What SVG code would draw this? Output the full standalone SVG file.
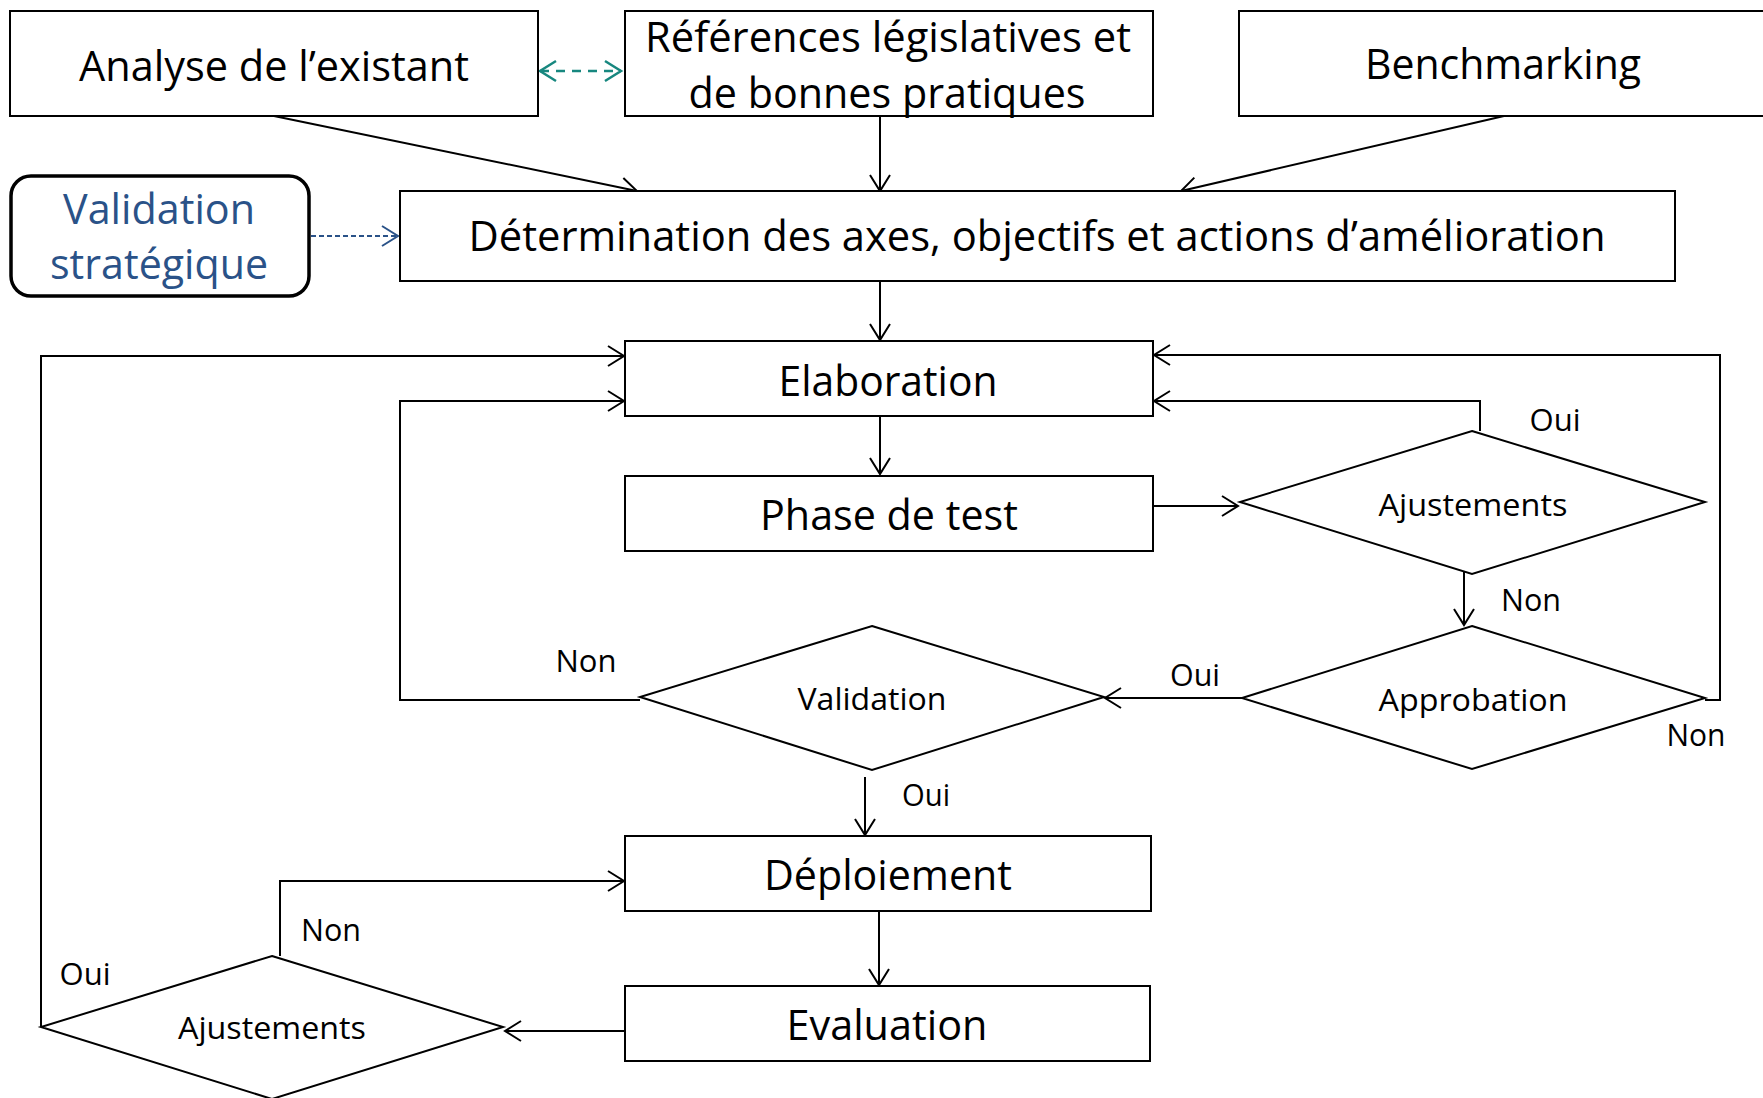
<svg xmlns="http://www.w3.org/2000/svg" width="1763" height="1098" viewBox="0 0 1763 1098">
<style>
.box{fill:#fff;stroke:#000;stroke-width:2}
.dia{fill:#fff;stroke:#000;stroke-width:2}
.t{font-family:"Open Sans","Liberation Sans",sans-serif;font-size:42px;fill:#000;text-anchor:middle}
.s{font-family:"Open Sans","Liberation Sans",sans-serif;font-size:31px;fill:#000;text-anchor:middle}
.b{font-family:"Open Sans","Liberation Sans",sans-serif;font-size:42px;fill:#2a5288;text-anchor:middle}
.c{fill:none;stroke:#000;stroke-width:2}
</style>
<defs>
<marker id="ah" markerUnits="userSpaceOnUse" markerWidth="24" markerHeight="24" viewBox="0 0 24 24" refX="20" refY="12" orient="auto"><path d="M4,2 L20,12 L4,22" fill="none" stroke="#000" stroke-width="2"/></marker>
<marker id="aht" markerUnits="userSpaceOnUse" markerWidth="24" markerHeight="24" viewBox="0 0 24 24" refX="20" refY="12" orient="auto-start-reverse"><path d="M4,2 L20,12 L4,22" fill="none" stroke="#17877f" stroke-width="2.5"/></marker>
<marker id="ahb" markerUnits="userSpaceOnUse" markerWidth="24" markerHeight="24" viewBox="0 0 24 24" refX="20" refY="12" orient="auto"><path d="M4,2 L20,12 L4,22" fill="none" stroke="#2a5288" stroke-width="2"/></marker>
</defs>

<g id="connectors">
<line x1="540" y1="71" x2="621" y2="71" stroke="#17877f" stroke-width="2.5" stroke-dasharray="9,7" marker-start="url(#aht)" marker-end="url(#aht)"/>
<line x1="311" y1="236" x2="398" y2="236" stroke="#2a5288" stroke-width="2" stroke-dasharray="5,3" marker-end="url(#ahb)"/>
<line class="c" x1="274" y1="116" x2="637" y2="191" marker-end="url(#ah)"/>
<line class="c" x1="880" y1="116" x2="880" y2="191" marker-end="url(#ah)"/>
<line class="c" x1="1504" y1="116" x2="1181" y2="191" marker-end="url(#ah)"/>
<line class="c" x1="880" y1="281" x2="880" y2="340" marker-end="url(#ah)"/>
<line class="c" x1="880" y1="416" x2="880" y2="474" marker-end="url(#ah)"/>
<line class="c" x1="1151" y1="506" x2="1238" y2="506" marker-end="url(#ah)"/>
<polyline class="c" points="1480,431 1480,401 1154,401" marker-end="url(#ah)"/>
<polyline class="c" points="1705,700 1720,700 1720,355 1154,355" marker-end="url(#ah)"/>
<line class="c" x1="1464" y1="567" x2="1464" y2="625" marker-end="url(#ah)"/>
<line class="c" x1="1242" y1="698" x2="1105" y2="698" marker-end="url(#ah)"/>
<polyline class="c" points="640,700 400,700 400,401 624,401" marker-end="url(#ah)"/>
<line class="c" x1="865" y1="777" x2="865" y2="835" marker-end="url(#ah)"/>
<line class="c" x1="879" y1="911" x2="879" y2="985" marker-end="url(#ah)"/>
<line class="c" x1="625" y1="1031" x2="505" y2="1031" marker-end="url(#ah)"/>
<polyline class="c" points="280,956 280,881 624,881" marker-end="url(#ah)"/>
<polyline class="c" points="41,1027 41,356 624,356" marker-end="url(#ah)"/>
</g>

<g id="n-analyse">
<rect class="box" x="10" y="11" width="528" height="105"/>
<text class="t" x="274" y="81" textLength="390" lengthAdjust="spacingAndGlyphs">Analyse de l’existant</text>
</g>
<g id="n-references">
<rect class="box" x="625" y="11" width="528" height="105"/>
<text class="t" x="888" y="52" textLength="486" lengthAdjust="spacingAndGlyphs">Références législatives et</text>
<text class="t" x="887" y="108" textLength="397" lengthAdjust="spacingAndGlyphs">de bonnes pratiques</text>
</g>
<g id="n-benchmarking">
<rect class="box" x="1239" y="11" width="540" height="105"/>
<text class="t" x="1503" y="79" textLength="276" lengthAdjust="spacingAndGlyphs">Benchmarking</text>
</g>
<g id="n-validation-strategique">
<rect x="11" y="176" width="298" height="120" rx="20" ry="20" fill="#fff" stroke="#000" stroke-width="3.5"/>
<text class="b" x="159" y="224" textLength="192" lengthAdjust="spacingAndGlyphs">Validation</text>
<text class="b" x="159" y="279" textLength="218" lengthAdjust="spacingAndGlyphs">stratégique</text>
</g>
<g id="n-determination">
<rect class="box" x="400" y="191" width="1275" height="90"/>
<text class="t" x="1037" y="251" textLength="1137" lengthAdjust="spacingAndGlyphs">Détermination des axes, objectifs et actions d’amélioration</text>
</g>
<g id="n-elaboration">
<rect class="box" x="625" y="341" width="528" height="75"/>
<text class="t" x="888" y="396" textLength="219" lengthAdjust="spacingAndGlyphs">Elaboration</text>
</g>
<g id="n-phase-test">
<rect class="box" x="625" y="476" width="528" height="75"/>
<text class="t" x="889" y="530" textLength="258" lengthAdjust="spacingAndGlyphs">Phase de test</text>
</g>
<g id="n-ajustements-1">
<polygon class="dia" points="1472,431 1705,502 1472,574 1240,502"/>
<text class="s" x="1473" y="516" textLength="189" lengthAdjust="spacingAndGlyphs">Ajustements</text>
</g>
<g id="n-approbation">
<polygon class="dia" points="1472,626 1705,698 1472,769 1242,698"/>
<text class="s" x="1473" y="711" textLength="189" lengthAdjust="spacingAndGlyphs">Approbation</text>
</g>
<g id="n-validation">
<polygon class="dia" points="872,626 1104,697 872,770 640,697"/>
<text class="s" x="872" y="710" textLength="149" lengthAdjust="spacingAndGlyphs">Validation</text>
</g>
<g id="n-deploiement">
<rect class="box" x="625" y="836" width="526" height="75"/>
<text class="t" x="888" y="890" textLength="248" lengthAdjust="spacingAndGlyphs">Déploiement</text>
</g>
<g id="n-evaluation">
<rect class="box" x="625" y="986" width="525" height="75"/>
<text class="t" x="887" y="1040" textLength="201" lengthAdjust="spacingAndGlyphs">Evaluation</text>
</g>
<g id="n-ajustements-2">
<polygon class="dia" points="272,956 503,1027 272,1099 41,1027"/>
<text class="s" x="272" y="1039" textLength="188" lengthAdjust="spacingAndGlyphs">Ajustements</text>
</g>

<g id="labels">
<text class="s" x="586" y="672" textLength="61" lengthAdjust="spacingAndGlyphs">Non</text>
<text class="s" x="1555" y="431" textLength="51" lengthAdjust="spacingAndGlyphs">Oui</text>
<text class="s" x="1531" y="611" textLength="60" lengthAdjust="spacingAndGlyphs">Non</text>
<text class="s" x="1195" y="686" textLength="50" lengthAdjust="spacingAndGlyphs">Oui</text>
<text class="s" x="1696" y="746" textLength="59" lengthAdjust="spacingAndGlyphs">Non</text>
<text class="s" x="926" y="806" textLength="48" lengthAdjust="spacingAndGlyphs">Oui</text>
<text class="s" x="331" y="941" textLength="60" lengthAdjust="spacingAndGlyphs">Non</text>
<text class="s" x="85" y="985" textLength="51" lengthAdjust="spacingAndGlyphs">Oui</text>
</g>
</svg>
